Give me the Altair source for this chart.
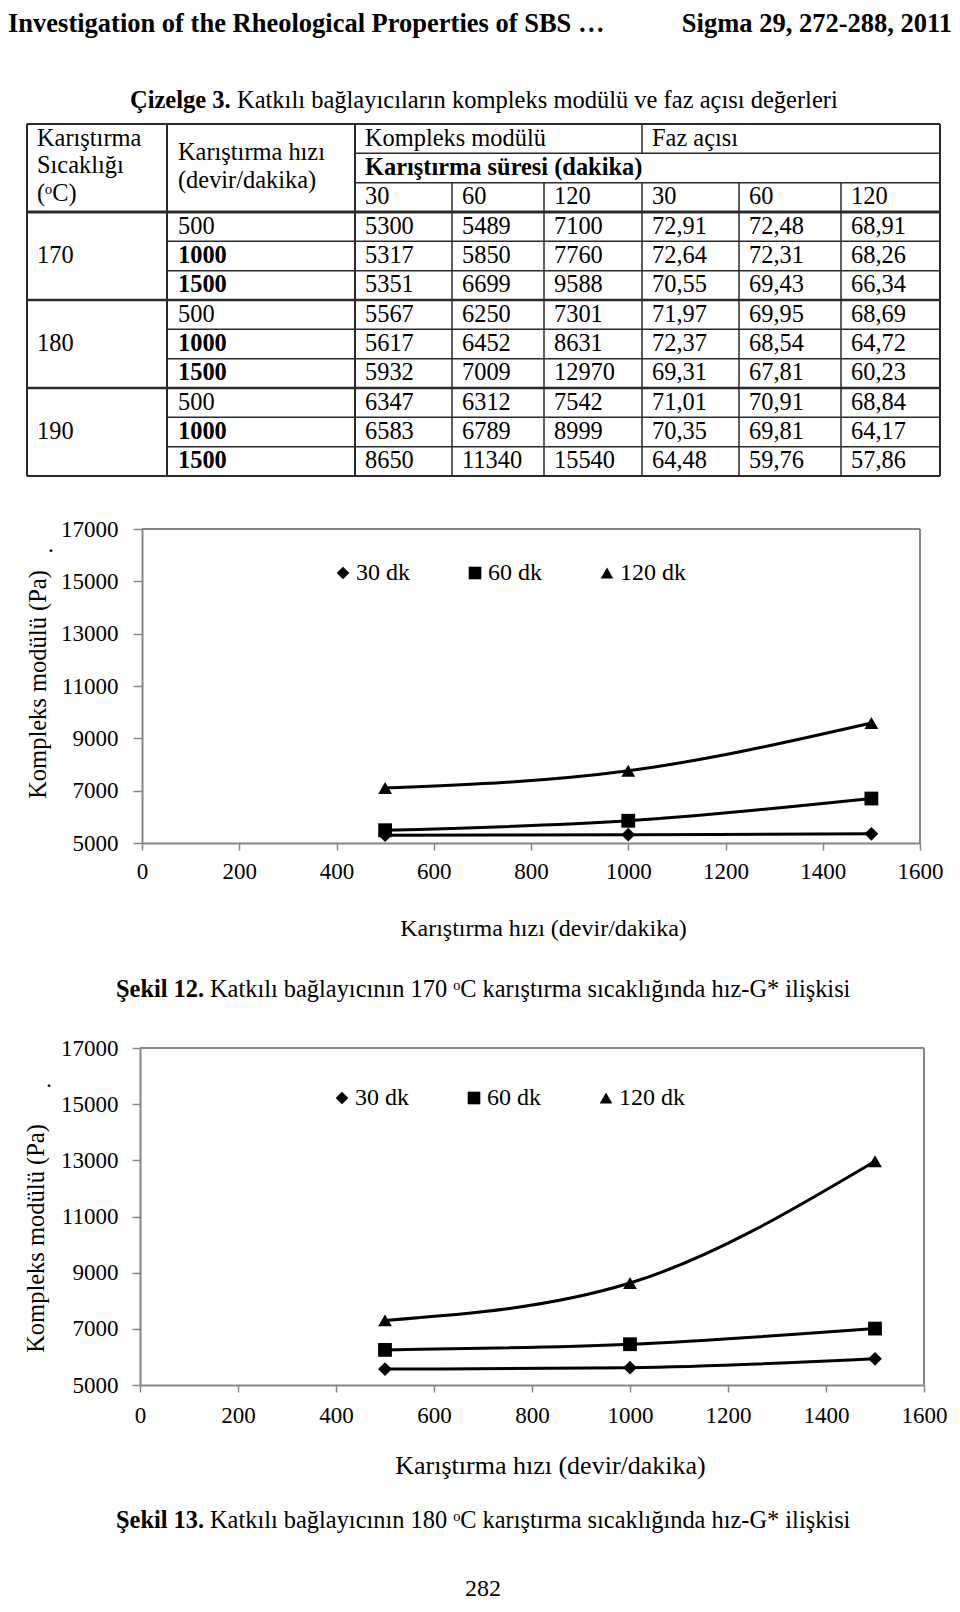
import altair as alt
import pandas as pd

# ---------------- data ----------------
temps = [170, 180, 190]
speeds = [500, 1000, 1500]
durations = ["30 dk", "60 dk", "120 dk"]
duration_heads = ["30", "60", "120"]

G170_30 = [5300, 5317, 5351]
G170_60 = [5489, 5850, 6699]
G170_120 = [7100, 7760, 9588]
G180_30 = [5567, 5617, 5932]
G180_60 = [6250, 6452, 7009]
G180_120 = [7301, 8631, 12970]
G190_30 = [6347, 6583, 8650]
G190_60 = [6312, 6789, 11340]
G190_120 = [7542, 8999, 15540]

F170_30 = [72.91, 72.64, 70.55]
F170_60 = [72.48, 72.31, 69.43]
F170_120 = [68.91, 68.26, 66.34]
F180_30 = [71.97, 72.37, 69.31]
F180_60 = [69.95, 68.54, 67.81]
F180_120 = [68.69, 64.72, 60.23]
F190_30 = [71.01, 70.35, 64.48]
F190_60 = [70.91, 69.81, 59.76]
F190_120 = [68.84, 64.17, 57.86]

x_ticks = [0, 200, 400, 600, 800, 1000, 1200, 1400, 1600]
y_ticks = [5000, 7000, 9000, 11000, 13000, 15000, 17000]

header_left = "Investigation of the Rheological Properties of SBS …"
header_right = "Sigma 29, 272-288, 2011"
table_title_bold = "Çizelge 3."
table_title_rest = "Katkılı bağlayıcıların kompleks modülü ve faz açısı değerleri"
cap12_bold = "Şekil 12."
cap12_rest = "Katkılı bağlayıcının 170 ᵒC karıştırma sıcaklığında hız-G* ilişkisi"
cap13_bold = "Şekil 13."
cap13_rest = "Katkılı bağlayıcının 180 ᵒC karıştırma sıcaklığında hız-G* ilişkisi"
x_title = "Karıştırma hızı (devir/dakika)"
y_title = "Kompleks modülü (Pa)"
page_no = "282"

# ---------------- layout / style ----------------
SERIF = "Liberation Serif"
W = 944
HA, HB, HC = 492, 510, 586
GRAY = "#868686"
LINE = "#2a2a2a"
TFS = 24.4  # table font size


def text_layer(text, x, y, size, weight="normal", align="left", baseline="middle"):
    return alt.Chart(pd.DataFrame({"t": [text]})).mark_text(
        font=SERIF, fontSize=size, fontWeight=weight, align=align,
        baseline=baseline, color="black"
    ).encode(text="t:N", x=alt.value(x), y=alt.value(y))


def fmt_f(v):
    return f"{v:.2f}".replace(".", ",")


# ---------------- panel A: header + table ----------------
col_edges = [19, 159, 347, 444, 536, 634, 731, 833, 932]
row_top = 116
row_h = 29.33


def row_y(k):
    return row_top + k * row_h


def row_c(k):
    return row_top + (k + 0.5) * row_h


lines = []


def hl(y, x0, x1, w):
    lines.append(dict(x=x0, x2=x1, y=y, y2=y, w=w))


def vl(x, y0, y1, w):
    lines.append(dict(x=x, x2=x, y=y0, y2=y1, w=w))


L, R = col_edges[0], col_edges[-1]
top, bot = row_y(0), row_y(12)
hl(top, L, R, 2)
hl(row_y(1), col_edges[2], R, 1.5)
hl(row_y(2), col_edges[2], R, 1.5)
hl(row_y(3), L, R, 3)
for k in [4, 5, 7, 8, 10, 11]:
    hl(row_y(k), col_edges[1], R, 1.5)
for k in [6, 9]:
    hl(row_y(k), L, R, 2.5)
hl(bot, L, R, 2)
for x in [L, col_edges[1], col_edges[2], R]:
    vl(x, top, bot, 2)
vl(col_edges[5], top, row_y(1), 1.5)
vl(col_edges[5], row_y(2), bot, 1.5)
for c in [3, 4, 6, 7]:
    vl(col_edges[c], row_y(2), bot, 1.5)
lines_df = pd.DataFrame(lines)

normal_cells = []
bold_cells = []
PADX = 10
normal_cells += [
    dict(x=L + PADX, y=131, t="Karıştırma"),
    dict(x=L + PADX, y=158, t="Sıcaklığı"),
    dict(x=L + PADX, y=186, t="(ᵒC)"),
    dict(x=col_edges[1] + 11, y=145, t="Karıştırma hızı"),
    dict(x=col_edges[1] + 11, y=173, t="(devir/dakika)"),
    dict(x=col_edges[2] + PADX, y=row_c(0), t="Kompleks modülü"),
    dict(x=col_edges[5] + PADX, y=row_c(0), t="Faz açısı"),
]
bold_cells.append(dict(x=col_edges[2] + PADX, y=row_c(1), t="Karıştırma süresi (dakika)"))
for j, h in enumerate(duration_heads + duration_heads):
    normal_cells.append(dict(x=col_edges[2 + j] + PADX, y=row_c(2), t=h))

groups = [
    (G170_30, G170_60, G170_120, F170_30, F170_60, F170_120),
    (G180_30, G180_60, G180_120, F180_30, F180_60, F180_120),
    (G190_30, G190_60, G190_120, F190_30, F190_60, F190_120),
]
for g, temp in enumerate(temps):
    normal_cells.append(dict(x=L + PADX, y=row_c(3 + 3 * g + 1), t=str(temp)))
    vals = groups[g]
    for i, s in enumerate(speeds):
        rk = 3 + 3 * g + i
        cell = dict(x=col_edges[1] + 11, y=row_c(rk), t=str(s))
        (normal_cells if s == 500 else bold_cells).append(cell)
        for j in range(6):
            v = vals[j][i]
            t = str(v) if j < 3 else fmt_f(v)
            normal_cells.append(dict(x=col_edges[2 + j] + PADX, y=row_c(rk), t=t))

normal_df = pd.DataFrame(normal_cells)
bold_df = pd.DataFrame(bold_cells)

table_lines = alt.Chart(lines_df).mark_rule(color=LINE).encode(
    x=alt.X("x:Q", scale=None, axis=None), x2="x2:Q",
    y=alt.Y("y:Q", scale=None, axis=None), y2="y2:Q",
    strokeWidth=alt.StrokeWidth("w:Q", scale=None, legend=None),
)
table_normal = alt.Chart(normal_df).mark_text(
    font=SERIF, fontSize=TFS, align="left", baseline="middle", color="black"
).encode(x=alt.X("x:Q", scale=None, axis=None), y=alt.Y("y:Q", scale=None, axis=None), text="t:N")
table_bold = alt.Chart(bold_df).mark_text(
    font=SERIF, fontSize=TFS, fontWeight="bold", align="left", baseline="middle", color="black"
).encode(x=alt.X("x:Q", scale=None, axis=None), y=alt.Y("y:Q", scale=None, axis=None), text="t:N")

panelA = alt.layer(
    text_layer(header_left, 0, 3, 26.5, "bold", baseline="top"),
    text_layer(header_right, W, 3, 26.5, "bold", align="right", baseline="top"),
    text_layer(table_title_bold, 122, 93, 24.5, "bold"),
    text_layer(table_title_rest, 229, 93, 24.5),
    table_lines, table_normal, table_bold,
).properties(width=W, height=HA)


# ---------------- chart panels ----------------
def chart_panel(g30, g60, g120, P, extra):
    df = pd.DataFrame({
        "speed": speeds * 3,
        "G": g30 + g60 + g120,
        "dur": [durations[0]] * 3 + [durations[1]] * 3 + [durations[2]] * 3,
    })
    xs = alt.Scale(domain=[0, 1600], range=[P["x0"], P["x1"]], nice=False, zero=False)
    ys = alt.Scale(domain=[5000, 17000], range=[P["yb"], P["yt"]], nice=False, zero=False)
    x_axis = alt.Axis(
        values=x_ticks, format="d", title=x_title, offset=-(P["H"] - P["yb"]),
        domainColor=GRAY, domainWidth=2, tickColor=GRAY, tickWidth=1.5, tickSize=7,
        labelFont=SERIF, labelFontSize=23, labelColor="black", labelPadding=P["xlp"],
        labelFlush=False, labelOverlap=False, grid=False,
        titleFont=SERIF, titleFontSize=P["xts"], titleFontWeight="normal", titleColor="black",
        titleX=P["xtx"], titleY=P["xty"], titleBaseline="middle", titleAlign="center",
    )
    y_axis = alt.Axis(
        values=y_ticks, format="d", title=y_title, offset=-P["x0"],
        domainColor=GRAY, domainWidth=2, tickColor=GRAY, tickWidth=1.5, tickSize=P["yts"],
        labelFont=SERIF, labelFontSize=23, labelColor="black", labelPadding=P["ylp"],
        labelFlush=False, labelOverlap=False, grid=False,
        titleFont=SERIF, titleFontSize=24.5, titleFontWeight="normal", titleColor="black",
        titleX=P["ytx"], titleY=P["yty"], titleBaseline="middle", titleAlign="center",
    )
    frame = alt.Chart(pd.DataFrame({
        "x": [0, 1600], "x2": [1600, 1600], "y": [17000, 5000], "y2": [17000, 17000]
    })).mark_rule(color=GRAY, strokeWidth=2).encode(
        x=alt.X("x:Q", scale=xs, axis=x_axis), x2="x2:Q",
        y=alt.Y("y:Q", scale=ys, axis=y_axis), y2="y2:Q",
    )
    base = alt.Chart(df).encode(
        x=alt.X("speed:Q", scale=xs, axis=x_axis),
        y=alt.Y("G:Q", scale=ys, axis=y_axis),
    )
    curve = base.mark_line(color="black", strokeWidth=3, interpolate="monotone").encode(detail="dur:N")
    pts = base.mark_point(filled=True, color="black", size=190, opacity=1).encode(
        shape=alt.Shape(
            "dur:N",
            scale=alt.Scale(domain=durations, range=["diamond", "square", "triangle-up"]),
            legend=alt.Legend(
                title=None, orient="none", legendX=P["lx"], legendY=P["ly"],
                direction="horizontal", columns=3, columnPadding=53, padding=0,
                labelFont=SERIF, labelFontSize=24, labelColor="black", labelOffset=1,
                symbolSize=160, symbolFillColor="black", symbolStrokeColor="black",
                symbolStrokeWidth=0,
            ),
        )
    )
    return alt.layer(frame, curve, pts, *extra).properties(width=W, height=P["H"])


PB = dict(H=HB, x0=134, x1=912, yb=343, yt=29, xlp=10, xts=24, xtx=535, xty=85,
          yts=9, ylp=15, ytx=-104, yty=184, lx=323, ly=61)
PC = dict(H=HC, x0=132, x1=916, yb=375, yt=38, xlp=12, xts=26, xtx=542, xty=80,
          yts=8, ylp=14, ytx=-104, yty=228, lx=322, ly=76)

panelB = chart_panel(G170_30, G170_60, G170_120, PB, [
    text_layer(".", 40, 45, 24),
    text_layer(cap12_bold, 108, 490, 24.4, "bold"),
    text_layer(cap12_rest, 202, 490, 24.4),
])
panelC = chart_panel(G180_30, G180_60, G180_120, PC, [
    text_layer(".", 38, 70, 24),
    text_layer(cap13_bold, 108, 511, 24.4, "bold"),
    text_layer(cap13_rest, 202, 511, 24.4),
    text_layer(page_no, 475, 579, 24, align="center"),
])

chart = alt.vconcat(panelA, panelB, panelC, spacing=0).resolve_scale(
    shape="independent"
).properties(padding=0, background="white").configure_view(stroke=None)

chart.save("out.html", embed_options={"renderer": "svg", "actions": False})
